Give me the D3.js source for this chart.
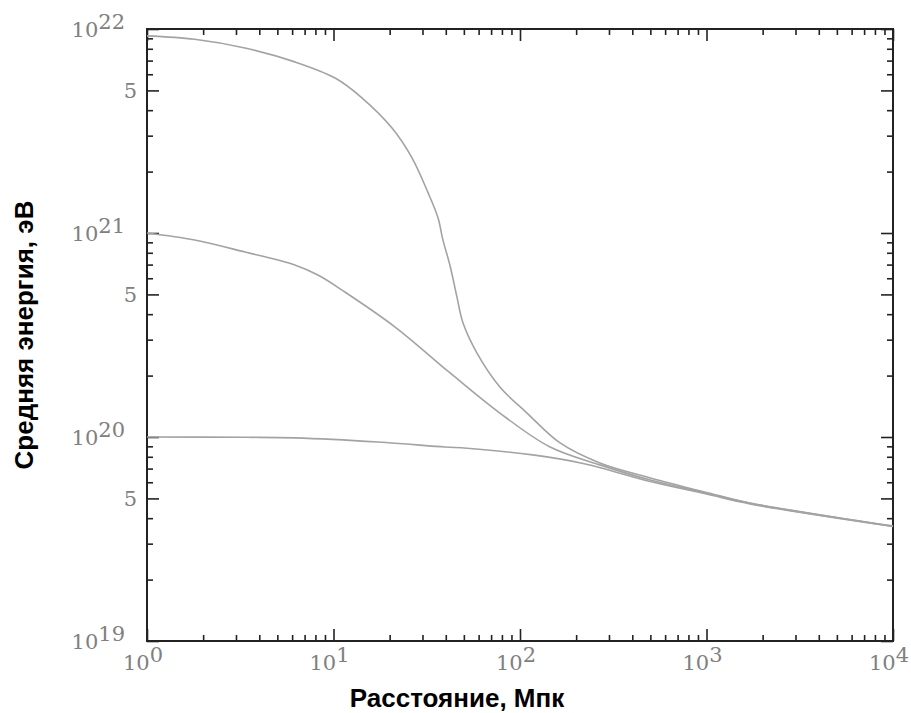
<!DOCTYPE html>
<html>
<head>
<meta charset="utf-8">
<script src="https://cdn.jsdelivr.net/npm/d3@7"></script>
<style>
body { margin: 0; background: #fff; }
</style>
</head>
<body>
<div id="chart"></div>
<script>
// distance (Mpc) and mean energy (eV) for the three curves
var distTop = [1, 1.8, 3.35, 6.2, 10.2, 14.2, 20.6, 26.4, 32, 36.3, 38.6, 42.2, 45.9, 49.5, 58.8, 78, 109, 164, 268, 500, 1000, 1710, 10000];
var energyTop = [9.25e21, 8.9e21, 8.07e21, 6.9e21, 5.75e21, 4.6e21, 3.27e21, 2.33e21, 1.59e21, 1.19e21, 9.25e20, 6.89e20, 4.86e20, 3.62e20, 2.58e20, 1.76e20, 1.31e20, 9.35e19, 7.46e19, 6.3e19, 5.35e19, 4.75e19, 3.66e19];

var distMid = [1, 1.8, 3.35, 6.2, 8.25, 11.5, 21.4, 42.2, 78, 145, 268, 500, 1000, 1710, 10000];
var energyMid = [1.0e21, 9.24e20, 8.07e20, 6.97e20, 6.22e20, 5.14e20, 3.46e20, 2.06e20, 1.31e20, 8.93e19, 7.3e19, 6.15e19, 5.3e19, 4.73e19, 3.65e19];

var distLow = [1, 3.35, 6.2, 17.3, 39.6, 52, 117, 218, 500, 1000, 1710, 10000];
var energyLow = [1.0e20, 9.97e19, 9.9e19, 9.45e19, 8.93e19, 8.8e19, 8.17e19, 7.42e19, 6.05e19, 5.25e19, 4.7e19, 3.64e19];

// tick labels
var xExps = [0, 1, 2, 3, 4];
var yExps = [19, 20, 21, 22];
var yFives = [5e19, 5e20, 5e21];

var xTitle = "Расстояние, Мпк";
var yTitle = "Средняя энергия, эВ";

// setup
var svgWidth = 911, svgHeight = 713;
var plotLeft = 147, plotRight = 893, plotTop = 29, plotBottom = 641;

var svg = d3.select("#chart").append("svg")
  .attr("width", svgWidth)
  .attr("height", svgHeight);

var x = d3.scaleLog().domain([1, 1e4]).range([plotLeft, plotRight]);
var y = d3.scaleLog().domain([1e19, 1e22]).range([plotBottom, plotTop]);

// tick values
var xMajor = xExps.map(function(e) { return Math.pow(10, e); });
var xMinor = [];
for (var e = 0; e < 4; e++) {
  for (var k = 2; k <= 9; k++) xMinor.push(k * Math.pow(10, e));
}
var yMajor = yExps.map(function(e) { return Math.pow(10, e); }).concat(yFives);
var yMinor = [];
for (var e2 = 19; e2 < 22; e2++) {
  [2, 3, 4, 6, 7, 8, 9].forEach(function(k) { yMinor.push(k * Math.pow(10, e2)); });
}

// axes, ticks pointing inwards on all four sides
function addAxis(axisFn, scale, vals, size, tx, ty) {
  var g = svg.append("g")
    .attr("transform", "translate(" + tx + "," + ty + ")")
    .call(axisFn(scale).tickValues(vals).tickSize(-size).tickFormat(""));
  g.select(".domain").remove();
  g.selectAll(".tick line").attr("stroke", "#222").attr("stroke-width", 1.6);
}
addAxis(d3.axisBottom, x, xMajor, 12, 0, plotBottom);
addAxis(d3.axisBottom, x, xMinor, 6, 0, plotBottom);
addAxis(d3.axisTop, x, xMajor, 12, 0, plotTop);
addAxis(d3.axisTop, x, xMinor, 6, 0, plotTop);
addAxis(d3.axisLeft, y, yMajor, 12, plotLeft, 0);
addAxis(d3.axisLeft, y, yMinor, 6, plotLeft, 0);
addAxis(d3.axisRight, y, yMajor, 12, plotRight, 0);
addAxis(d3.axisRight, y, yMinor, 6, plotRight, 0);

// frame
svg.append("rect")
  .attr("x", plotLeft).attr("y", plotTop)
  .attr("width", plotRight - plotLeft).attr("height", plotBottom - plotTop)
  .attr("fill", "none")
  .attr("stroke", "#222")
  .attr("stroke-width", 2);

// curves
var line = d3.line()
  .x(function(d) { return x(d[0]); })
  .y(function(d) { return y(d[1]); })
  .curve(d3.curveCatmullRom.alpha(0.5));

[[distTop, energyTop], [distMid, energyMid], [distLow, energyLow]].forEach(function(s) {
  var pts = s[0].map(function(d, i) { return [d, s[1][i]]; });
  svg.append("path")
    .datum(pts)
    .attr("d", line)
    .attr("fill", "none")
    .attr("stroke", "#a3a3a3")
    .attr("stroke-width", 1.6);
});

// tick labels (10^n with raised exponent)
var labelFont = "'DejaVu Serif', serif";
var labelColor = "#808080";

xExps.forEach(function(e) {
  var t = svg.append("text")
    .attr("x", x(Math.pow(10, e)) - 4)
    .attr("y", 670)
    .attr("text-anchor", "middle")
    .attr("font-family", labelFont)
    .attr("font-size", 21)
    .attr("fill", labelColor);
  t.append("tspan").text("10");
  t.append("tspan").attr("dy", -8).text(e);
});

yExps.forEach(function(e) {
  var t = svg.append("text")
    .attr("x", 125)
    .attr("y", y(Math.pow(10, e)) + 8)
    .attr("text-anchor", "end")
    .attr("font-family", labelFont)
    .attr("font-size", 21)
    .attr("fill", labelColor);
  t.append("tspan").text("10");
  t.append("tspan").attr("dy", -8).text(e);
});

yFives.forEach(function(v) {
  svg.append("text")
    .attr("x", 137)
    .attr("y", y(v) + 8)
    .attr("text-anchor", "end")
    .attr("font-family", labelFont)
    .attr("font-size", 21)
    .attr("fill", labelColor)
    .text("5");
});

// axis titles
svg.append("text")
  .attr("x", 457)
  .attr("y", 707)
  .attr("text-anchor", "middle")
  .attr("font-family", "'Liberation Sans', Arial, sans-serif")
  .attr("font-weight", "bold")
  .attr("font-size", 26)
  .attr("fill", "#000")
  .text(xTitle);

svg.append("text")
  .attr("transform", "translate(33," + ((plotTop + plotBottom) / 2) + ")rotate(-90)")
  .attr("text-anchor", "middle")
  .attr("font-family", "'Liberation Sans', Arial, sans-serif")
  .attr("font-weight", "bold")
  .attr("font-size", 26)
  .attr("fill", "#000")
  .text(yTitle);
</script>
</body>
</html>
